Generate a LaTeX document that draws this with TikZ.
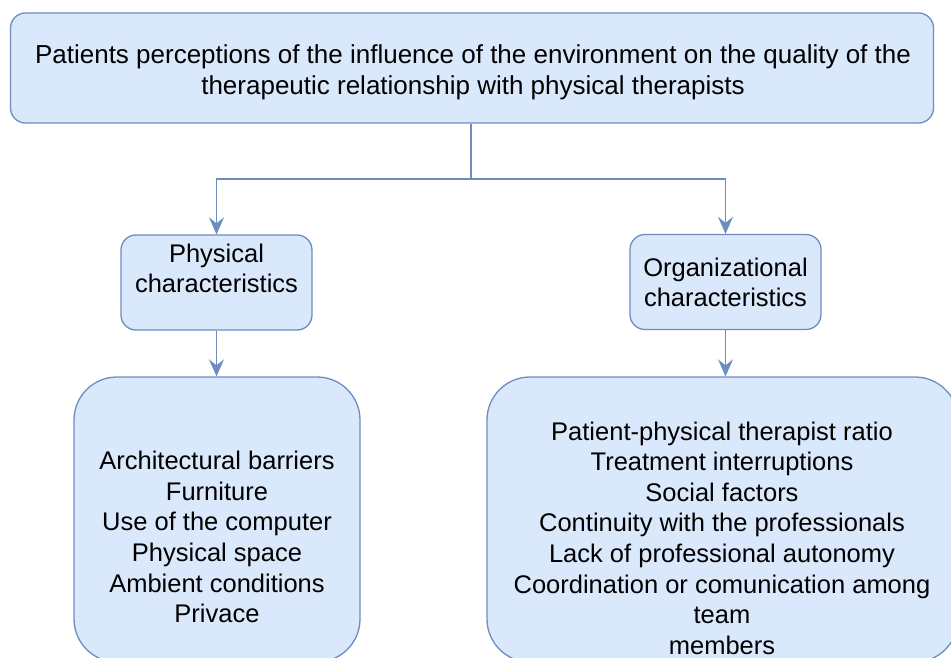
\documentclass[tikz,border=0pt]{standalone}
\usepackage{fontspec}
\setmainfont{Liberation Sans}
\usetikzlibrary{arrows.meta}
\definecolor{boxfill}{HTML}{DAE8FC}
\definecolor{boxline}{HTML}{6C8EBF}
\tikzset{
  box/.style={draw=boxline, fill=boxfill, line width=1.3pt, rectangle, inner sep=0pt,
    align=center, font=\fontsize{25.5}{30}\selectfont},
  conn/.style={draw=boxline, line width=1.6pt},
  arr/.style={conn, -{Stealth[length=17pt, width=15pt, inset=6pt]}}
}
\begin{document}
\begin{tikzpicture}[x=1pt, y=-1pt]
\clip (0,0) rectangle (951,658);
\useasboundingbox (0,0) rectangle (951,658);
\fill[white] (0,0) rectangle (951,658);

\node[box, rounded corners=15pt, minimum width=923pt, minimum height=110pt] (top) at (472,68) {};
\node[align=center, font=\fontsize{26}{31}\selectfont] (toptext) at (473,72)
  {Patients perceptions of the influence of the environment on the quality of the\\therapeutic relationship with physical therapists};

\node[box, rounded corners=15pt, minimum width=191pt, minimum height=95pt] (ml) at (216.5,282.5) {};
\node[align=center, font=\fontsize{25.5}{30}\selectfont] (mlt) at (216.5,268.5)
  {Physical\\characteristics};
\node[box, rounded corners=15pt, minimum width=191pt, minimum height=95pt] (mr) at (725.5,282)
  {Organizational\\characteristics};

\node[box, rounded corners=43pt, minimum width=286pt, minimum height=285pt] (bl) at (217,519.5) {};
\node[box, rounded corners=43pt, minimum width=471pt, minimum height=285pt] (br) at (722.5,519.5) {};

\node[align=center, font=\fontsize{25.5}{30.6}\selectfont] (blt) at (217,537)
  {Architectural barriers\\Furniture\\Use of the computer\\Physical space\\Ambient conditions\\Privace};
\node[align=center, font=\fontsize{25.5}{30.6}\selectfont] (brt) at (722,538)
  {Patient-physical therapist ratio\\Treatment interruptions\\Social factors\\Continuity with the professionals\\Lack of professional autonomy\\Coordination or comunication among\\team\\members};

\coordinate (j) at (471,179);
\draw[conn] (top.south -| j) -- (j);
\draw[arr] (j) -| (ml.north);
\draw[arr] (j) -| (mr.north);
\draw[arr] (ml.south) -- (ml.south |- bl.north);
\draw[arr] (mr.south) -- (mr.south |- br.north);
\end{tikzpicture}
\end{document}
